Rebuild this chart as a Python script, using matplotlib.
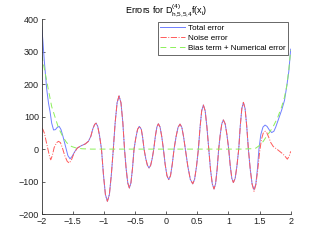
import matplotlib
matplotlib.use("Agg")
import matplotlib.pyplot as plt

plt.rcParams["font.family"] = ["Liberation Sans", "DejaVu Sans"]
plt.rcParams["mathtext.fontset"] = "custom"
plt.rcParams["mathtext.rm"] = "Liberation Sans"

# oscillating part shared by total error and noise error
x_mid = [-1.30, -1.25, -1.21, -1.18, -1.15, -1.127, -1.10, -1.07,
         -1.04, -1.008, -0.977, -0.945, -0.913, -0.882,
         -0.85, -0.82, -0.789, -0.758, -0.727, -0.697,
         -0.67, -0.644, -0.618, -0.592, -0.567, -0.542,
         -0.517, -0.488, -0.46, -0.431, -0.40, -0.378,
         -0.356, -0.329, -0.302, -0.276, -0.25, -0.225,
         -0.20, -0.175, -0.15, -0.126, -0.099, -0.072,
         -0.045, -0.017, 0.012, 0.04, 0.069, 0.097,
         0.126, 0.158, 0.19, 0.222, 0.251, 0.279,
         0.308, 0.347, 0.387, 0.426, 0.456, 0.487,
         0.517, 0.544, 0.57, 0.597, 0.626, 0.654,
         0.683, 0.711, 0.74, 0.768, 0.793, 0.818,
         0.843, 0.868, 0.893, 0.918, 0.947, 0.975,
         1.004, 1.029, 1.054, 1.079, 1.108, 1.136,
         1.165, 1.19, 1.215, 1.24, 1.267, 1.293,
         1.32, 1.35, 1.38]
y_mid = [16, 24, 40, 62, 76, 80, 70, 40,
         0, -80, -140, -161, -140, -80,
         0, 82, 143, 164, 143, 82,
         0, -60, -104, -120, -104, -60,
         0, 35, 61, 70, 61, 35,
         0, -29, -50, -58, -50, -29,
         0, 39, 68, 78, 68, 39,
         0, -47, -82, -94, -82, -47,
         0, 38, 67, 77, 67, 38,
         0, -53, -93, -107, -93, -53,
         0, 68, 118, 136, 118, 68,
         0, -62, -107, -123, -107, -62,
         0, 45, 78, 90, 78, 45,
         0, -52, -90, -103, -90, -52,
         0, 72, 125, 144, 125, 72,
         0, -62, -108]

# ends of the total error
x_tot_l = [-2.0, -1.98, -1.96, -1.94, -1.92, -1.89, -1.866, -1.84, -1.81, -1.78, -1.75,
           -1.72, -1.69, -1.66, -1.62, -1.58, -1.545, -1.51, -1.47, -1.43, -1.37]
y_tot_l = [377, 330, 275, 230, 185, 140, 115, 80, 59, 60, 67,
           70, 60, 40, 10, -20, -30, -22, -8, 3, 10]
x_tot_r = [1.411, 1.44, 1.465, 1.49, 1.52, 1.555, 1.588, 1.62, 1.66, 1.695, 1.73, 1.76,
           1.80, 1.856, 1.90, 1.936, 1.97, 2.0]
y_tot_r = [-125, -108, -62, 0, 45, 68, 74, 70, 58, 51, 55, 68,
           90, 121, 150, 193, 240, 308]

# ends of the noise error
x_noi_l = [-2.0, -1.98, -1.957, -1.93, -1.90, -1.875, -1.855, -1.83, -1.80, -1.76, -1.73,
           -1.70, -1.67, -1.63, -1.59, -1.556, -1.52, -1.48, -1.43, -1.37]
y_noi_l = [65, 60, 49, 25, 0, -22, -33, -20, 5, 20, 24,
           20, 5, -20, -38, -43, -32, -12, 3, 10]
x_noi_r = [1.411, 1.44, 1.47, 1.50, 1.53, 1.56, 1.59, 1.615, 1.65, 1.68, 1.72, 1.79,
           1.856, 1.90, 1.946, 1.975, 2.0]
y_noi_r = [-130, -110, -65, -10, 30, 50, 55, 51, 35, 20, 8, -2,
           -12, -20, -31, -22, -7]

# bias term + numerical error
x_bias = [-2.0, -1.98, -1.96, -1.94, -1.92, -1.88, -1.84, -1.78, -1.73, -1.66, -1.6,
          -1.52, -1.44, -1.35, -1.2, 1.2, 1.35, 1.44, 1.51, 1.56, 1.61, 1.66, 1.72, 1.79,
          1.856, 1.90, 1.94, 1.97, 2.0]
y_bias = [290, 270, 250, 230, 210, 170, 131, 95, 65, 38, 20,
          8, 3, 1, 0, 0, 1, 3, 13, 24, 39, 52, 70, 97,
          131, 160, 198, 245, 305]

x_tot = x_tot_l + x_mid + x_tot_r
y_tot = y_tot_l + y_mid + y_tot_r
x_noi = x_noi_l + x_mid + x_noi_r
y_noi = y_noi_l + y_mid + y_noi_r

fig = plt.figure(figsize=(3.21, 2.42), dpi=100)
ax = fig.add_axes([0.13, 0.1157, 0.7756, 0.8045])

ax.plot(x_tot, y_tot, color="#6f7fff", lw=0.7, label="Total error")
ax.plot(x_noi, y_noi, color="#ff5a5a", lw=0.7, ls="-.", label="Noise error")
ax.plot(x_bias, y_bias, color="#8cf05a", lw=0.7, ls=(0, (6, 4)),
        label="Bias term + Numerical error")

ax.set_xlim(-2, 2)
ax.set_ylim(-200, 400)
ax.set_xticks([-2, -1.5, -1, -0.5, 0, 0.5, 1, 1.5, 2])
ax.set_xticklabels(["\u22122", "\u22121.5", "\u22121", "\u22120.5", "0", "0.5", "1", "1.5", "2"])
ax.set_yticks([-200, -100, 0, 100, 200, 300, 400])
ax.set_yticklabels(["\u2212200", "\u2212100", "0", "100", "200", "300", "400"])
ax.tick_params(direction="in", labelsize=6.5, length=2.5, width=0.5, pad=2,
               colors="#222222")
for s in ["top", "right"]:
    ax.spines[s].set_visible(False)
for s in ["left", "bottom"]:
    ax.spines[s].set_linewidth(0.6)
    ax.spines[s].set_color("#333333")

ax.set_title(r"Errors for $\mathregular{D^{(4)}_{h{,}5{,}5{,}4}f(x_i)}$", fontsize=6.5, pad=3)

leg = ax.legend(loc="upper right", fontsize=5.8, frameon=True, fancybox=False,
                borderpad=0.35, labelspacing=0.3, handlelength=3.0, handletextpad=0.4,
                borderaxespad=0.3)
leg.get_frame().set_edgecolor("#222222")
leg.get_frame().set_linewidth(0.6)

fig.savefig("out.png", dpi=100)
